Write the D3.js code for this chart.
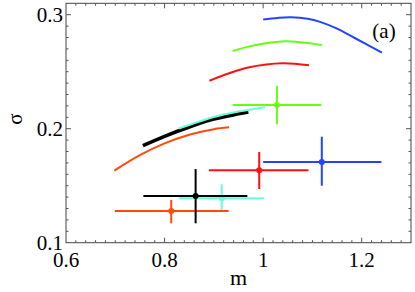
<!DOCTYPE html>
<html>
<head>
<meta charset="utf-8">
<script src="https://cdn.jsdelivr.net/npm/d3@7"></script>
<style>
html,body{margin:0;padding:0;background:#fff;}
svg{display:block;}
</style>
</head>
<body>
<svg id="chart" width="415" height="292"></svg>
<script>
// ---- data ----
const blueM   = [1.000, 1.030, 1.056, 1.090, 1.117, 1.150, 1.184, 1.241];
const blueS   = [0.2958, 0.2972, 0.2977, 0.2965, 0.2935, 0.2878, 0.2800, 0.2667];
const greenM  = [0.938, 0.970, 1.006, 1.046, 1.119];
const greenS  = [0.2682, 0.2720, 0.2749, 0.2767, 0.2734];
const redM    = [0.891, 0.931, 0.972, 1.039, 1.093];
const redS    = [0.2421, 0.2486, 0.2539, 0.2574, 0.2556];
const blackM  = [0.756, 0.800, 0.850, 0.900, 0.950, 0.970];
const blackS  = [0.1851, 0.1933, 0.2015, 0.2084, 0.2130, 0.2146];
const cyanM   = [0.829, 0.850, 0.900, 0.950, 1.004];
const cyanS   = [0.2002, 0.2033, 0.2102, 0.2150, 0.2188];
const orangeM = [0.698, 0.750, 0.800, 0.850, 0.900, 0.931];
const orangeS = [0.1633, 0.1768, 0.1871, 0.1947, 0.1996, 0.2012];

// error bars: centre m, centre sigma, m range, sigma range
const barNames = ["blue", "green", "red", "black", "cyan", "orange"];
const barM     = [1.119, 1.028, 0.992, 0.863, 0.916, 0.8135];
const barS     = [0.1708, 0.2208, 0.1635, 0.1410, 0.1390, 0.1278];
const barMLo   = [1.000, 0.938, 0.890, 0.757, 0.829, 0.699];
const barMHi   = [1.240, 1.118, 1.092, 0.968, 1.002, 0.930];
const barSLo   = [0.150, 0.2039, 0.1471, 0.117, 0.1287, 0.117];
const barSHi   = [0.193, 0.2375, 0.1796, 0.1646, 0.1512, 0.1375];

const xTicks = [0.6, 0.8, 1.0, 1.2];
const xTickLabels = ["0.6", "0.8", "1", "1.2"];
const yTicks = [0.1, 0.2, 0.3];
const yTickLabels = ["0.1", "0.2", "0.3"];

// ---- styles ----
const colors = {blue:"#2244ff", green:"#66ff11", red:"#ff1111", black:"#000000", cyan:"#66ffdd", orange:"#ff4a0a"};
const FONT = "Liberation Serif";

const svg = d3.select("#chart");
const L = 66, R = 411, T = 3.3, B = 242.7;
const x = d3.scaleLinear().domain([0.6, 1.3]).range([L, R]);
const y = d3.scaleLinear().domain([0.1, 0.31]).range([B, T]);

const line = d3.line().x(d => x(d[0])).y(d => y(d[1])).curve(d3.curveCatmullRom.alpha(0.5));
const zip = (a, b) => a.map((v, i) => [v, b[i]]);

function curve(ms, ss, col, w) {
  svg.append("path").datum(zip(ms, ss)).attr("d", line)
    .attr("fill", "none").attr("stroke", col).attr("stroke-width", w)
    .attr("stroke-linecap", "butt");
}
curve(blueM, blueS, colors.blue, 2);
curve(greenM, greenS, colors.green, 2);
curve(redM, redS, colors.red, 2);
curve(orangeM, orangeS, colors.orange, 2);
curve(blackM, blackS, colors.black, 3.5);
curve(cyanM, cyanS, colors.cyan, 2);

// error bars
const order = ["blue", "green", "red", "orange", "cyan", "black"];
order.forEach(name => {
  const i = barNames.indexOf(name);
  const c = colors[name];
  const g = svg.append("g");
  g.append("line").attr("x1", x(barMLo[i])).attr("x2", x(barMHi[i]))
    .attr("y1", y(barS[i])).attr("y2", y(barS[i])).attr("stroke", c).attr("stroke-width", 2);
  g.append("line").attr("x1", x(barM[i])).attr("x2", x(barM[i]))
    .attr("y1", y(barSLo[i])).attr("y2", y(barSHi[i])).attr("stroke", c).attr("stroke-width", 2);
  g.append("circle").attr("cx", x(barM[i])).attr("cy", y(barS[i])).attr("r", 3).attr("fill", c);
});

// frame
svg.append("rect").attr("x", L).attr("y", T).attr("width", R - L).attr("height", B - T)
  .attr("fill", "none").attr("stroke", "#444").attr("stroke-width", 1);

// ticks
const xMinor = d3.range(0, 36).map(k => 0.6 + k * 0.02).filter(v => v < 1.3 - 1e-9 && v > 0.6 + 1e-9);
const yMinor = d3.range(0, 22).map(k => 0.1 + k * 0.01).filter(v => v < 0.31 - 1e-9 && v > 0.1 + 1e-9);
const isMajor = (v, arr) => arr.some(t => Math.abs(t - v) < 1e-6);
const tk = svg.append("g").attr("stroke", "#555").attr("stroke-width", 1);
xMinor.forEach(v => {
  const len = isMajor(v, xTicks) ? 5 : 2.5;
  tk.append("line").attr("x1", x(v)).attr("x2", x(v)).attr("y1", B).attr("y2", B - len);
  tk.append("line").attr("x1", x(v)).attr("x2", x(v)).attr("y1", T).attr("y2", T + len);
});
yMinor.forEach(v => {
  const len = isMajor(v, yTicks) ? 5 : 2.5;
  tk.append("line").attr("y1", y(v)).attr("y2", y(v)).attr("x1", L).attr("x2", L + len);
  tk.append("line").attr("y1", y(v)).attr("y2", y(v)).attr("x1", R).attr("x2", R - len);
});

// tick labels
xTicks.forEach((v, i) => {
  svg.append("text").attr("x", x(v)).attr("y", 266.5).attr("text-anchor", "middle")
    .attr("font-family", FONT).attr("font-size", 21).text(xTickLabels[i]);
});
yTicks.forEach((v, i) => {
  svg.append("text").attr("x", L - 3).attr("y", y(v) + 7).attr("text-anchor", "end")
    .attr("font-family", FONT).attr("font-size", 21).text(yTickLabels[i]);
});

// axis labels
svg.append("text").attr("x", 238.5).attr("y", 285).attr("text-anchor", "middle")
  .attr("font-family", FONT).attr("font-size", 22).text("m");
svg.append("text").attr("transform", "translate(22,119) rotate(-90)").attr("text-anchor", "middle")
  .attr("font-family", FONT).attr("font-size", 21).text("σ");
svg.append("text").attr("x", 384).attr("y", 38).attr("text-anchor", "middle")
  .attr("font-family", FONT).attr("font-size", 21).text("(a)");
</script>
</body>
</html>
